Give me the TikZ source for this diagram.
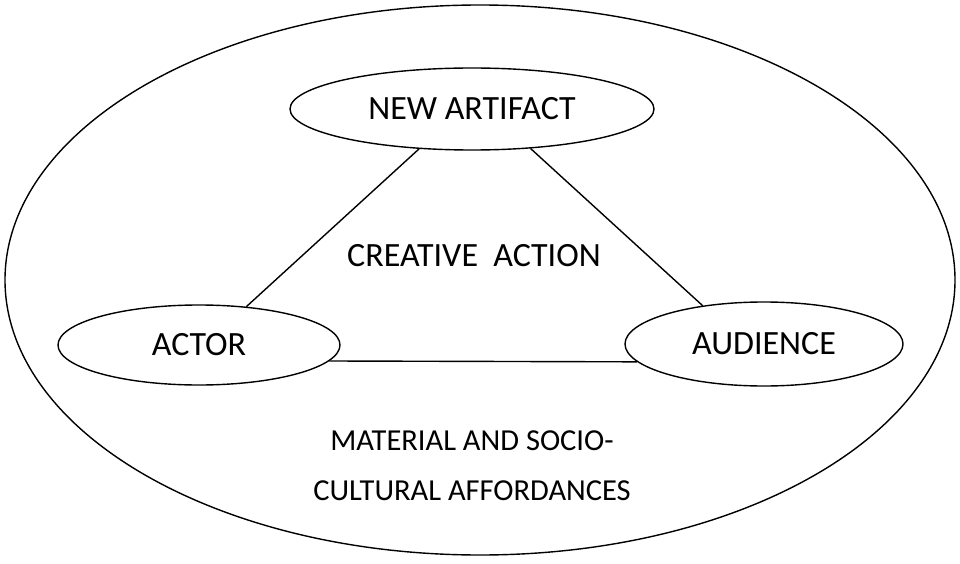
\documentclass[tikz,border=0pt]{standalone}
\usepackage{fontspec}
\setmainfont{Carlito}
\usetikzlibrary{shapes.geometric}

\tikzset{
  bubble/.style={draw, ellipse, line width=1.4pt, inner sep=0pt},
  label text/.style={font=\fontsize{34}{50}\selectfont, align=center},
  link/.style={line width=1.4pt}
}

\begin{document}
\begin{tikzpicture}[x=1pt, y=-1pt]
\useasboundingbox (0,0) rectangle (960,564);
% outer field
\node[bubble, minimum width=950pt, minimum height=550pt] (field) at (480,280) {};
% the three corners
\node[bubble, minimum width=364pt, minimum height=82pt, label text] (artifact) at (472,109) {NEW ARTIFACT};
\node[bubble, minimum width=282pt, minimum height=80pt, label text] (actor) at (199,345) {ACTOR};
\node[bubble, minimum width=278pt, minimum height=84pt, label text] (audience) at (764,344) {AUDIENCE};

% triangle sides
\draw[link] (artifact.-143) -- (actor.39);
\draw[link] (artifact.-34) -- (audience.148);
\draw[link] (actor.-7) -- (audience.-172);

% inner texts
\node[label text] (action) at (474,256) {CREATIVE\ \ ACTION};
\node[label text, font=\fontsize{30.5}{50}\selectfont] (afford) at (472,466) {MATERIAL AND SOCIO-\\CULTURAL AFFORDANCES};

\end{tikzpicture}
\end{document}
